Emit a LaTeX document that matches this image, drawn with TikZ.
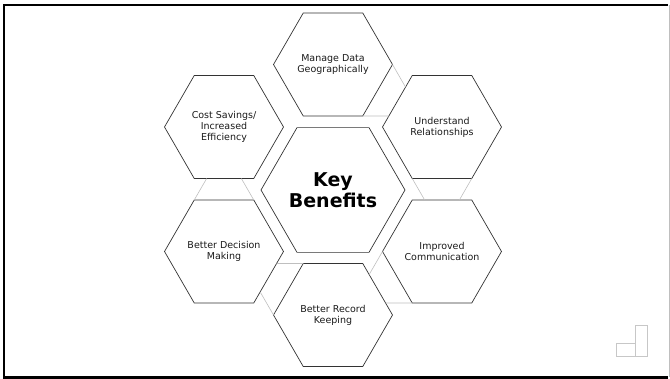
\documentclass[tikz,border=0pt]{standalone}
\usepackage{fontspec}
\setmainfont{DejaVu Sans}
\usetikzlibrary{calc}
\tikzset{
  hexline/.style={draw=black!80, line width=0.7pt},
  joinline/.style={draw=black!25, line width=0.6pt},
  hextext/.style={align=center, font=\fontsize{9.5}{11.2}\selectfont, text=black!90, inner sep=0pt},
  keytext/.style={align=center, font=\bfseries\fontsize{19}{20.5}\selectfont, text=black, inner sep=0pt},
  frameline/.style={draw=black, line width=2.5pt},
  iconline/.style={draw=black!22, line width=0.8pt},
}
\newcommand\mkhex[4]{% name, x, y, R
  \foreach \a in {0,60,...,300}{\coordinate (#1\a) at ($(#2,#3)+(\a:#4)$);}
  \draw[hexline] (#10)--(#160)--(#1120)--(#1180)--(#1240)--(#1300)--cycle;
}
\begin{document}
\begin{tikzpicture}[x=1pt,y=-1pt]
\useasboundingbox (0,0) rectangle (670,379);
% frame
\draw[frameline] (668,5) -- (4,5) -- (4,377.5) -- (668,377.5);
\draw[draw=black!25, line width=0.8pt] (669,5) -- (669,377.5);
% hexagons
\mkhex{C}{333}{190}{72}
\mkhex{T}{333}{64.5}{59.5}
\mkhex{UR}{442}{127}{59.5}
\mkhex{LR}{442}{251.5}{59.5}
\mkhex{B}{333}{315}{59.5}
\mkhex{LL}{224}{251.5}{59.5}
\mkhex{UL}{224}{127}{59.5}
% light joining lines
\draw[joinline] (T0) -- (intersection of T300--T0 and UR180--UR240);
\draw[joinline] (T60) -- (intersection of T120--T60 and UR180--UR240);
\draw[joinline] (UR60) -- (intersection of UR0--UR60 and LR240--LR300);
\draw[joinline] (UR120) -- (intersection of UR180--UR120 and LR240--LR300);
\draw[joinline] (LR120) -- (intersection of LR60--LR120 and B300--B0);
\draw[joinline] (LR180) -- (intersection of LR240--LR180 and B300--B0);
\draw[joinline] (B180) -- (intersection of B120--B180 and LL0--LL60);
\draw[joinline] (B240) -- (intersection of B300--B240 and LL0--LL60);
\draw[joinline] (LL240) -- (intersection of LL180--LL240 and UL60--UL120);
\draw[joinline] (LL300) -- (intersection of LL0--LL300 and UL60--UL120);
% texts
\node[keytext] (key) at (333,190) {Key\\Benefits};
\node[hextext] (manage) at (333,64.5) {Manage Data\\Geographically};
\node[hextext] (understand) at (442,127) {Understand\\Relationships};
\node[hextext] (improved) at (442,251.5) {Improved\\Communication};
\node[hextext] (record) at (333,315) {Better Record\\Keeping};
\node[hextext] (decision) at (224,251.5) {Better Decision\\Making};
\node[hextext] (cost) at (224,127) {Cost Savings/\\Increased\\Efficiency};
% corner icon
\draw[iconline] (635.3,325) rectangle (647.3,356);
\draw[iconline] (616.7,343.3) rectangle (635.3,356);
\end{tikzpicture}
\end{document}
